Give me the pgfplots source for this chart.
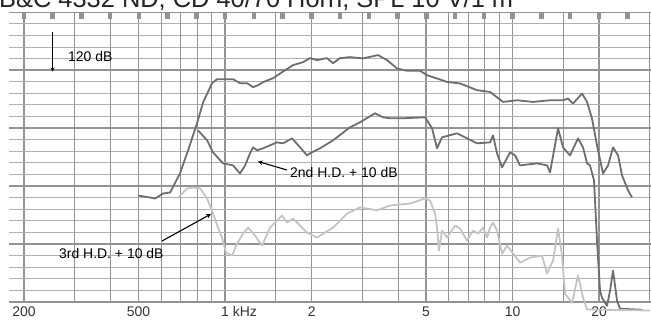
\documentclass[border=0pt]{standalone}
\usepackage{pgfplots}
\pgfplotsset{compat=1.18}
\usepackage{fontspec}
\setmainfont{Liberation Sans}
\definecolor{gridc}{HTML}{939393}
\definecolor{gridm}{HTML}{B0B0B0}
\definecolor{curve}{HTML}{6E6E6E}
\definecolor{curvel}{HTML}{C4C4C4}
\begin{document}
\begin{tikzpicture}[x=1bp,y=1bp]
\path[use as bounding box] (0,0) rectangle (651,319);
\node[anchor=base west,inner sep=0pt,font=\fontsize{25.5}{28}\selectfont,text=black!85] at (-1,311.5) {B\&C 4332 ND, CD 40/70 Horn, SPL 10 V/1 m};
\begin{axis}[at={(9bp,17.25bp)},anchor=south west,scale only axis,
  width=642bp,height=289.5bp,
  xmode=log,xmin=177.3,xmax=30280,ymin=80,ymax=130,
  clip=false,axis line style={draw=none},
  xtick={200,500,1000,2000,5000,10000,20000},
  xticklabels={200,500,{1\rlap{ kHz}},2,5,10,20},
  extra x ticks={300,400,600,700,800,900,1500,3000,4000,6000,7000,8000,9000,15000,30000},
  extra x tick labels={},
  extra x tick style={grid=major,major grid style={draw=gridc,line width=1.1bp}},
  ytick={80,90,...,130},yticklabels={},
  minor ytick={82,84,...,128},
  grid=both,
  major grid style={draw=gridc,line width=1.5bp},
  minor grid style={draw=gridm,line width=0.9bp},
  major tick length=0pt,minor tick length=0pt,
  xticklabel style={font=\fontsize{14}{16}\selectfont,text=black!80,inner sep=0pt,yshift=-4.5bp,anchor=north},
  every axis plot/.append style={line width=1.8bp,line join=round},
]
% main response
\addplot[curve] coordinates {
(498,98.35)(549,98.0)(571,97.83)(609,98.7)(644,98.87)(697,102.17)(744,106.15)(799,110.82)(839,114.46)(901,117.75)(938,118.44)(1066,118.44)(1127,117.75)(1193,117.75)(1251,117.06)(1302,117.4)(1355,117.92)(1468,118.61)(1578,119.65)(1723,120.87)(1867,121.38)(1974,122.08)(2088,121.73)(2262,122.08)(2374,121.21)(2512,122.08)(2720,122.25)(3018,122.03)(3193,122.3)(3404,122.6)(3658,121.73)(3964,120.29)(4294,119.88)(4764,119.88)(5040,119.13)(5458,118.56)(5914,117.97)(6562,117.7)(7518,116.54)(8343,116.24)(9260,114.51)(10358,114.8)(11776,114.51)(13490,114.8)(14966,114.8)(15578,115.1)(16214,114.23)(17428,115.97)(18142,114.51)(18882,111.64)(19652,107.01)(20619,102.16)(21464,103.55)(22342,106.67)(23257,105.28)(24007,101.82)(25202,99.22)(26002,98.01)
};
% 2nd H.D.
\addplot[curve] coordinates {
(805,109.61)(866,107.88)(908,105.8)(984,103.9)(1066,103.55)(1127,102.16)(1174,103.55)(1221,105.63)(1251,106.67)(1292,106.15)(1355,106.5)(1433,107.01)(1516,107.53)(1591,107.36)(1710,108.22)(1823,106.67)(1928,105.28)(1974,105.63)(2139,106.5)(2374,107.88)(2720,110.13)(2946,111.0)(3322,112.55)(3543,111.86)(3747,111.69)(4157,111.69)(4959,111.86)(5244,109.96)(5458,106.5)(5680,108.4)(6405,109.09)(7518,107.36)(8343,107.53)(8546,108.74)(8825,105.63)(9184,103.2)(9794,105.8)(10195,105.28)(10611,103.55)(12155,103.9)(13171,103.55)(13490,102.34)(14384,109.96)(14966,106.67)(15829,105.28)(16878,108.22)(17568,106.67)(18142,103.9)(18581,103.55)(19184,100.95)(19652,90.56)(20129,81.9)(20452,80.69)(21286,79.29)(21810,81.9)(22342,85.37)(23066,80.17)(23626,78.79)(28180,78.62)
};
% 3rd H.D.
\addplot[curvel] coordinates {
(681,97.84)(738,99.57)(774,99.74)(819,99.57)(866,97.84)(908,95.24)(945,92.81)(976,91.08)(1008,88.48)(1058,87.96)(1101,90.04)(1155,91.77)(1202,92.81)(1271,91.43)(1345,89.7)(1433,92.81)(1516,94.02)(1578,94.89)(1643,93.68)(1723,94.37)(1823,93.16)(1928,91.95)(2088,91.08)(2374,92.81)(2656,95.24)(2946,96.31)(3376,95.79)(3747,96.62)(4397,96.97)(4959,97.84)(5161,97.49)(5372,95.24)(5458,92.81)(5546,88.83)(5680,92.29)(5914,91.08)(6304,93.16)(6562,92.64)(6940,90.56)(7282,92.29)(7580,91.77)(7891,92.81)(8147,91.08)(8343,92.81)(8546,93.68)(8825,92.29)(9184,88.31)(9560,89.7)(10611,86.75)(11491,87.62)(12651,87.97)(13171,84.85)(13818,87.1)(14384,92.64)(14850,87.97)(15210,81.38)(16086,79.83)(16878,84.55)(17568,80.74)(18142,78.66)(30038,78.49)
};
\end{axis}
% paper markers along the top
\begin{axis}[at={(9bp,17.25bp)},anchor=south west,scale only axis,
  width=642bp,height=289.5bp,
  xmode=log,xmin=177.3,xmax=30280,ymin=80,ymax=130,
  axis x line*=top,axis y line=none,axis line style={draw=none},
  xtick={200,251.2,316.2,398.1,501.2,631,794.3,1000,1259,1585,1995,2512,3162,3981,5012,6310,7943,10000,12589,15849,19953,25119},
  xticklabels={},tick align=inside,major tick length=7bp,
  tick style={line width=4.5bp,draw=gridc},
]
\end{axis}
% annotations
\draw[-stealth,line width=0.8bp] (52.5,287) -- (52.5,247.5);
\node[anchor=base west,inner sep=0pt,font=\fontsize{14}{16}\selectfont] at (68,257.3) {120 dB};
\draw[-stealth,line width=1.1bp] (287,149) -- (258,157.5);
\node[anchor=base west,inner sep=0pt,font=\fontsize{14}{16}\selectfont] at (290,142) {2nd H.D. + 10 dB};
\draw[-stealth,line width=1.1bp] (162,78) -- (211,105);
\node[anchor=base west,inner sep=0pt,font=\fontsize{14}{16}\selectfont] at (59,61) {3rd H.D. + 10 dB};
\end{tikzpicture}
\end{document}
